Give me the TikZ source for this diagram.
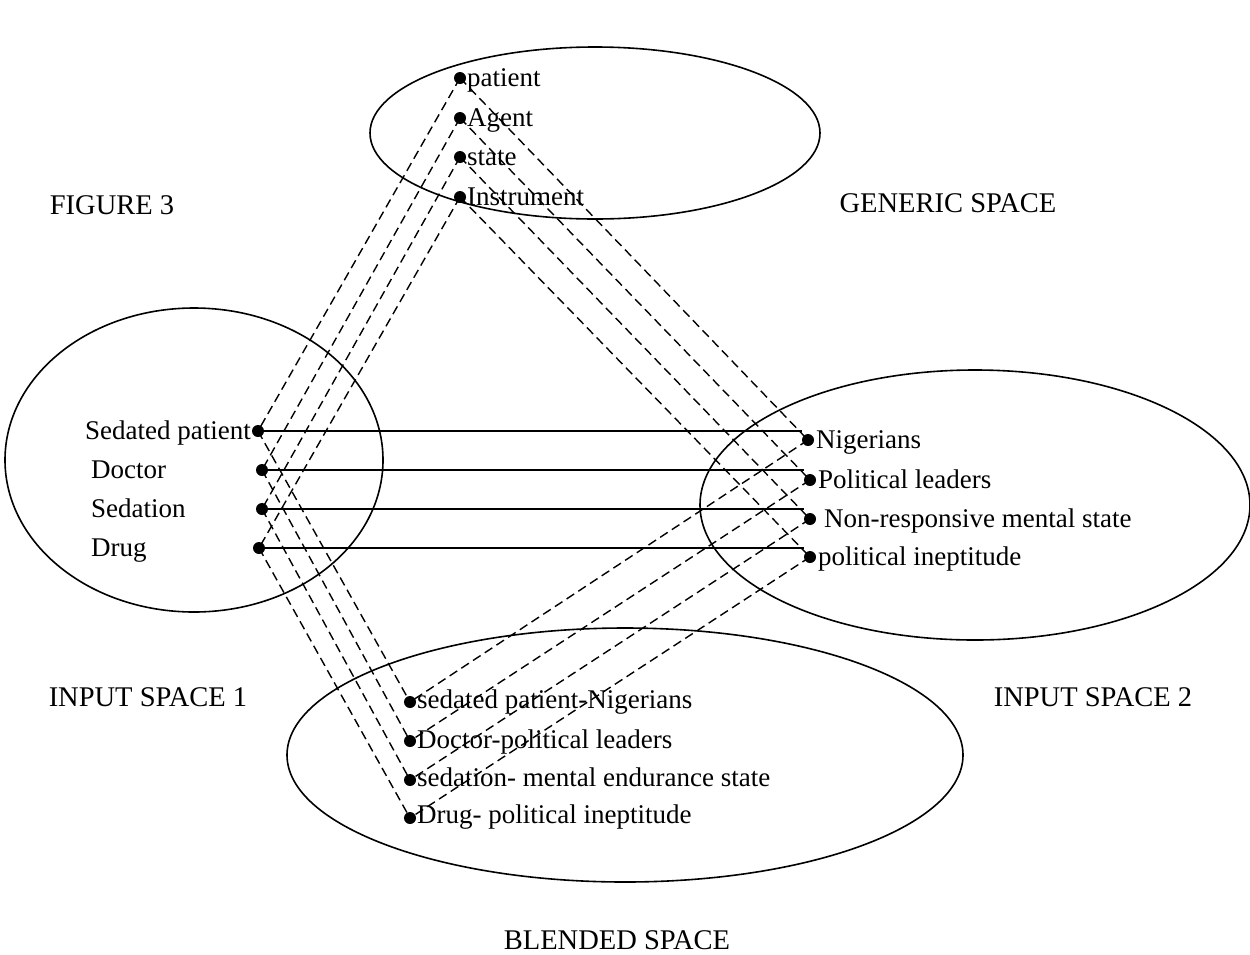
\documentclass[tikz,border=0pt]{standalone}
\usepackage{fontspec}
\setmainfont{Liberation Serif}
\begin{document}
\begin{tikzpicture}[x=1pt,y=-1pt,
  space/.style={draw=black,line width=1.6pt},
  dot/.style={circle,fill=black,inner sep=0pt,minimum size=12pt},
  lbl/.style={inner sep=0pt,yshift=-6pt,font=\fontsize{27}{30}\selectfont},
  title/.style={inner sep=0pt,font=\fontsize{28.5}{32}\selectfont},
  map/.style={line width=1.5pt},
  link/.style={line width=1.4pt,dash pattern=on 9pt off 5pt}]
\useasboundingbox (0,0) rectangle (1250,954);

% the four mental spaces
\draw[space] (595,133) ellipse [x radius=225,y radius=86];
\draw[space] (194,460) ellipse [x radius=189,y radius=152];
\draw[space] (975,505) ellipse [x radius=275,y radius=135];
\draw[space] (625,755) ellipse [x radius=338,y radius=127];

% captions
\node[title] (fig) at (112,205) {FIGURE 3};
\node[title] (gen) at (948,203) {GENERIC SPACE};
\node[title] (in1) at (148,697) {INPUT SPACE 1};
\node[title] (in2) at (1093,697) {INPUT SPACE 2};
\node[title] (bl) at (617,940) {BLENDED SPACE};

% generic space elements
\node[dot] (g1) at (460,78) {};
\node[dot] (g2) at (460,118) {};
\node[dot] (g3) at (460,157) {};
\node[dot] (g4) at (460,197) {};
\node[lbl,anchor=mid west] (tg1) at (467,78) {patient};
\node[lbl,anchor=mid west] (tg2) at (467,118) {Agent};
\node[lbl,anchor=mid west] (tg3) at (467,157) {state};
\node[lbl,anchor=mid west] (tg4) at (467,197) {Instrument};

% input space 1 elements
\node[dot] (a1) at (258,431) {};
\node[dot] (a2) at (262,470) {};
\node[dot] (a3) at (262,509) {};
\node[dot] (a4) at (259,548) {};
\node[lbl,anchor=mid east] (ta1) at (251,431) {Sedated patient};
\node[lbl,anchor=mid west] (ta2) at (91,470) {Doctor};
\node[lbl,anchor=mid west] (ta3) at (91,509) {Sedation};
\node[lbl,anchor=mid west] (ta4) at (91,548) {Drug};

% input space 2 elements
\node[dot] (b1) at (808,440) {};
\node[dot] (b2) at (810,480) {};
\node[dot] (b3) at (810,519) {};
\node[dot] (b4) at (810,557) {};
\node[lbl,anchor=mid west] (tb1) at (816,440) {Nigerians};
\node[lbl,anchor=mid west] (tb2) at (818,480) {Political leaders};
\node[lbl,anchor=mid west] (tb3) at (824,519) {Non-responsive mental state};
\node[lbl,anchor=mid west] (tb4) at (818,557) {political ineptitude};

% blended space elements
\node[dot] (c1) at (410,702) {};
\node[dot] (c2) at (410,741) {};
\node[dot] (c3) at (410,780) {};
\node[dot] (c4) at (410,818) {};
\node[lbl,anchor=mid west] (tc1) at (417,700) {sedated patient-Nigerians};
\node[lbl,anchor=mid west] (tc2) at (417,740) {Doctor-political leaders};
\node[lbl,anchor=mid west] (tc3) at (417,778) {sedation- mental endurance state};
\node[lbl,anchor=mid west] (tc4) at (417,815) {Drug- political ineptitude};

% cross-space mapping between the inputs
\foreach \i in {1,...,4}
  \draw[map] (a\i.center) -- (a\i.center -| b\i.west);

% projections from the generic space and into the blend
\foreach \i in {1,...,4} {
  \draw[link] (g\i.center) -- (a\i.center);
  \draw[link] (g\i.center) -- (b\i.center);
  \draw[link] (a\i.center) -- (c\i.center);
  \draw[link] (b\i.center) -- (c\i.center);
}
\end{tikzpicture}
\end{document}
